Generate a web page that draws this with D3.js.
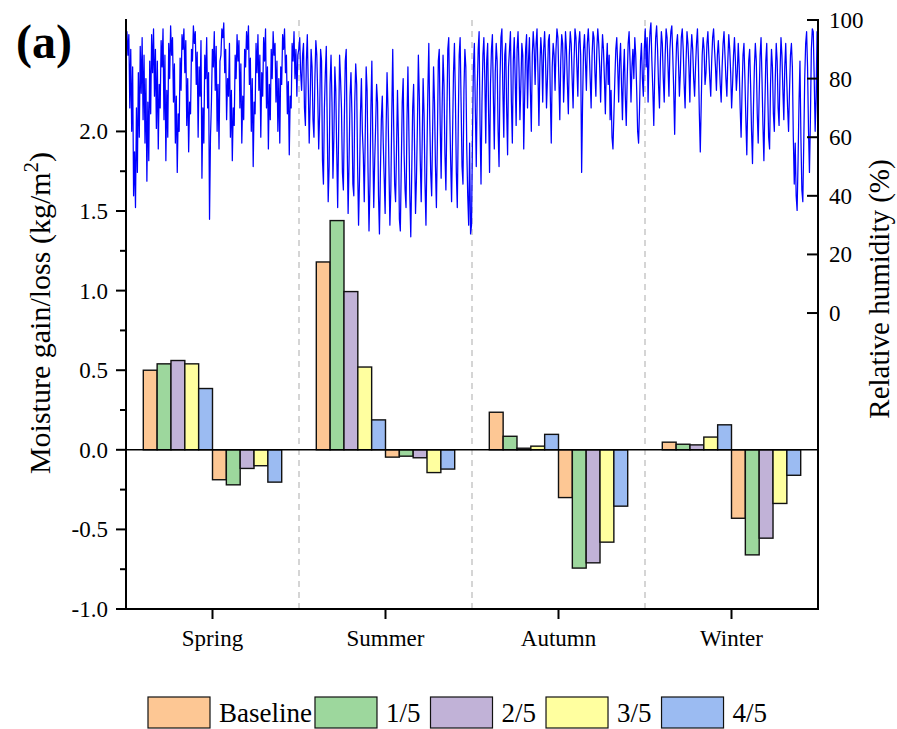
<!DOCTYPE html>
<html>
<head>
<meta charset="utf-8">
<script src="https://cdn.jsdelivr.net/npm/d3@7"></script>
<style>
  html, body { margin: 0; padding: 0; background: #fff; }
  svg { display: block; }
  text { font-family: "Liberation Serif", "Times New Roman", Times, serif; fill: #000; }
</style>
</head>
<body>
<svg id="chart" width="897" height="729"></svg>
<script>
// ---------- DATA ----------
const categories = ["Spring", "Summer", "Autumn", "Winter"];
const seriesNames = ["Baseline", "1/5", "2/5", "3/5", "4/5"];
const seriesColors = ["#FDC794", "#9DD79D", "#C1B2D7", "#FFFF9F", "#9BBBF2"];

// moisture gain (positive) per season
const baselineGain = [0.50, 1.18, 0.236, 0.048];
const oneFifthGain = [0.54, 1.44, 0.085, 0.035];
const twoFifthGain = [0.561, 0.994, 0.010, 0.031];
const threeFifthGain = [0.54, 0.52, 0.023, 0.080];
const fourFifthGain = [0.385, 0.188, 0.097, 0.157];
// moisture loss (negative) per season
const baselineLoss = [-0.188, -0.046, -0.300, -0.430];
const oneFifthLoss = [-0.220, -0.040, -0.743, -0.660];
const twoFifthLoss = [-0.117, -0.050, -0.710, -0.555];
const threeFifthLoss = [-0.100, -0.143, -0.580, -0.337];
const fourFifthLoss = [-0.203, -0.121, -0.354, -0.160];

const leftTicks = [-1.0, -0.5, 0.0, 0.5, 1.0, 1.5, 2.0];
const leftMinorTicks = [-0.75, -0.25, 0.25, 0.75, 1.25, 1.75];
const rightTicks = [0, 20, 40, 60, 80, 100];

// relative humidity (%) through the year (two readings per day)
const rhSpring = [
  93, 96, 88, 95, 70, 90, 62, 84, 40, 55, 36, 70, 48, 82, 60, 91, 75, 94, 66, 88,
  58, 80, 45, 72, 52, 86, 68, 95, 82, 97, 74, 90, 63, 86, 56, 78, 70, 93, 84, 97,
  66, 88, 52, 76, 60, 92, 80, 98, 88, 94, 72, 85, 58, 74, 48, 68, 62, 87, 76, 95,
  90, 97, 82, 93, 64, 80, 55, 72, 68, 90, 86, 98, 92, 96, 78, 89, 60, 84, 74, 93,
  46, 70, 58, 88, 80, 94, 70, 82, 32, 60, 72, 90, 84, 96, 76, 91, 62, 78, 56, 86,
  88, 97, 94, 99, 82, 90, 66, 80, 74, 92, 60, 76, 52, 70, 64, 88, 80, 95, 86, 93,
  70, 85, 58, 74, 66, 90, 84, 96, 90, 98, 78, 87, 62, 80, 50, 72, 68, 92, 82, 95,
  76, 88, 60, 82, 74, 94, 86, 97, 70, 84, 56, 78, 66, 90, 80, 96, 88, 92, 72, 86,
  62, 80, 58, 84, 78, 95, 90, 97, 82, 88, 68, 79, 54, 74, 70, 92, 86, 96, 80, 90,
  74, 88];
const rhSummer = [
  90, 94, 82, 76, 88, 92, 70, 64, 86, 95, 78, 58, 72, 90, 84, 66, 60, 80, 93, 88,
  74, 56, 68, 90, 86, 52, 44, 70, 82, 91, 64, 38, 50, 78, 88, 72, 46, 60, 84, 76,
  55, 36, 62, 88, 80, 70, 48, 42, 66, 86, 90, 58, 34, 52, 74, 82, 68, 44, 40, 72,
  85, 78, 50, 30, 46, 68, 80, 62, 54, 38, 60, 84, 76, 48, 28, 44, 70, 86, 58, 36,
  52, 64, 78, 72, 40, 27, 48, 66, 74, 58, 46, 34, 62, 82, 70, 50, 30, 42, 68, 90,
  64, 44, 38, 56, 76, 60, 32, 28, 50, 72, 80, 54, 42, 36, 66, 84, 62, 40, 26, 48,
  70, 78, 56, 34, 46, 64, 88, 74, 52, 38, 58, 80, 68, 44, 30, 54, 76, 92, 66, 48,
  40, 62, 84, 72, 50, 36, 58, 86, 90, 64, 46, 70, 88, 78, 54, 42, 66, 90, 94, 70,
  52, 38, 60, 82, 92, 74, 48, 36, 64, 88, 94, 72, 50, 44, 76, 90, 84, 56, 40, 30,
  58, 27];
const rhAutumn = [
  30, 60, 84, 92, 70, 50, 76, 90, 96, 64, 44, 72, 88, 94, 80, 58, 86, 92, 68, 48,
  78, 90, 95, 74, 56, 82, 92, 86, 62, 50, 80, 94, 97, 76, 60, 88, 92, 70, 54, 84,
  90, 96, 72, 58, 86, 94, 80, 64, 90, 96, 84, 66, 78, 92, 88, 56, 74, 90, 95, 70,
  86, 94, 76, 62, 88, 96, 90, 78, 92, 97, 82, 64, 84, 94, 88, 72, 90, 96, 86, 70,
  80, 93, 95, 74, 58, 84, 92, 88, 76, 90, 97, 94, 80, 66, 86, 95, 92, 72, 82, 96,
  90, 78, 68, 88, 96, 92, 80, 70, 86, 97, 94, 84, 74, 92, 96, 88, 48, 72, 90, 95,
  86, 76, 92, 97, 90, 80, 70, 88, 96, 94, 82, 74, 90, 97, 92, 84, 72, 86, 95, 90,
  80, 68, 84, 92, 78, 88, 66, 76, 60, 56, 68, 80, 90, 94, 84, 72, 86, 92, 78, 66,
  82, 90, 74, 64, 80, 92, 96, 86, 72, 84, 90, 80, 94, 88, 76, 62, 58, 70, 86, 92,
  80, 74];
const rhWinter = [
  90, 97, 84, 94, 72, 88, 96, 99, 86, 76, 64, 82, 94, 98, 90, 78, 70, 86, 96, 92,
  80, 72, 88, 97, 94, 84, 74, 90, 96, 98, 88, 76, 61, 80, 92, 95, 86, 74, 82, 94,
  97, 90, 78, 70, 86, 96, 92, 84, 72, 88, 95, 90, 80, 74, 84, 92, 97, 86, 68, 55,
  72, 88, 94, 90, 78, 82, 92, 96, 88, 80, 74, 86, 94, 97, 90, 84, 76, 88, 93, 86,
  78, 72, 84, 92, 96, 88, 80, 74, 86, 95, 90, 82, 70, 78, 88, 94, 86, 76, 82, 92,
  84, 70, 60, 76, 88, 92, 80, 66, 54, 72, 86, 90, 78, 62, 51, 70, 84, 92, 86, 68,
  58, 74, 88, 94, 80, 64, 52, 70, 86, 92, 76, 60, 56, 78, 90, 84, 68, 62, 80, 92,
  86, 70, 64, 82, 94, 88, 76, 66, 84, 92, 80, 70, 62, 76, 88, 92, 84, 60, 44, 58,
  40, 35, 52, 72, 86, 60, 42, 38, 58, 80, 92, 96, 84, 62, 48, 66, 90, 97, 96, 80,
  62, 74, 96, 45];

// ---------- BUILD ----------
const gains = [baselineGain, oneFifthGain, twoFifthGain, threeFifthGain, fourFifthGain];
const losses = [baselineLoss, oneFifthLoss, twoFifthLoss, threeFifthLoss, fourFifthLoss];
const rh = rhSpring.concat(rhSummer, rhAutumn, rhWinter);

const svg = d3.select("#chart");
const FONT = "'Liberation Serif', 'Times New Roman', Times, serif";
svg.attr("font-family", FONT);
const L = 126, R = 818, T = 20, B = 609;

const x = d3.scaleBand().domain(categories).range([L, R]).padding(0);
const slot = d3.scaleBand().domain(d3.range(10)).range([x.bandwidth() * 0.1, x.bandwidth() * 0.9]).padding(0);
const y = d3.scaleLinear().domain([-1, 2.7]).range([B, T]);
const yR = d3.scaleLinear().domain([-101, 100]).range([B, T]);
const xDay = d3.scaleLinear().domain([0, rh.length - 1]).range([L, R]);

// separators
svg.append("g").selectAll("line")
  .data(categories.slice(1))
  .join("line")
  .attr("x1", d => x(d)).attr("x2", d => x(d))
  .attr("y1", T).attr("y2", B)
  .attr("stroke", "#c8c8c8").attr("stroke-width", 1.5)
  .attr("stroke-dasharray", "6,5");

// RH line
svg.append("path")
  .datum(rh)
  .attr("fill", "none")
  .attr("stroke", "#0000ff")
  .attr("stroke-width", 1.25)
  .attr("stroke-linejoin", "round")
  .attr("d", d3.line().x((d, i) => xDay(i)).y(d => yR(d)));

// bars
const barData = [];
categories.forEach((c, ci) => {
  seriesNames.forEach((s, si) => {
    barData.push({ cat: c, slot: si, value: gains[si][ci], color: seriesColors[si] });
    barData.push({ cat: c, slot: si + 5, value: losses[si][ci], color: seriesColors[si] });
  });
});
svg.append("g").selectAll("rect")
  .data(barData)
  .join("rect")
  .attr("x", d => x(d.cat) + slot(d.slot))
  .attr("width", slot.bandwidth())
  .attr("y", d => y(Math.max(0, d.value)))
  .attr("height", d => Math.abs(y(d.value) - y(0)))
  .attr("fill", d => d.color)
  .attr("stroke", "#111")
  .attr("stroke-width", 1.4);

// zero line
svg.append("line")
  .attr("x1", L).attr("x2", R)
  .attr("y1", y(0)).attr("y2", y(0))
  .attr("stroke", "#000").attr("stroke-width", 1.5);

// left axis
const gL = svg.append("g").attr("transform", `translate(${L},0)`);
gL.append("line").attr("x1", 0).attr("x2", 0).attr("y1", T - 1).attr("y2", B + 1)
  .attr("stroke", "#000").attr("stroke-width", 2);
gL.selectAll(".maj").data(leftTicks).join("line").attr("class", "maj")
  .attr("x1", -10).attr("x2", 0).attr("y1", d => y(d)).attr("y2", d => y(d))
  .attr("stroke", "#000").attr("stroke-width", 2);
gL.selectAll(".min").data(leftMinorTicks).join("line").attr("class", "min")
  .attr("x1", -6).attr("x2", 0).attr("y1", d => y(d)).attr("y2", d => y(d))
  .attr("stroke", "#000").attr("stroke-width", 2);
gL.selectAll("text").data(leftTicks).join("text")
  .attr("x", -18).attr("y", d => y(d)).attr("dy", "0.35em")
  .attr("text-anchor", "end").attr("font-size", 23)
  .attr("font-family", FONT)
  .text(d => d3.format(".1f")(d).replace("\u2212", "-"));

// right axis
const gR = svg.append("g").attr("transform", `translate(${R},0)`);
gR.append("line").attr("x1", 0).attr("x2", 0).attr("y1", T - 1).attr("y2", B + 1)
  .attr("stroke", "#000").attr("stroke-width", 2);
gR.selectAll(".maj").data(rightTicks).join("line").attr("class", "maj")
  .attr("x1", -11).attr("x2", 0).attr("y1", d => yR(d)).attr("y2", d => yR(d))
  .attr("stroke", "#000").attr("stroke-width", 2);
gR.selectAll("text").data(rightTicks).join("text")
  .attr("x", 11).attr("y", d => yR(d)).attr("dy", "0.35em")
  .attr("text-anchor", "start").attr("font-size", 23)
  .attr("font-family", FONT)
  .text(d => d);

// bottom axis
const gB = svg.append("g");
gB.append("line").attr("x1", L - 1).attr("x2", R + 1).attr("y1", B).attr("y2", B)
  .attr("stroke", "#000").attr("stroke-width", 2);
gB.selectAll(".tk").data(categories).join("line").attr("class", "tk")
  .attr("x1", d => x(d) + x.bandwidth() / 2).attr("x2", d => x(d) + x.bandwidth() / 2)
  .attr("y1", B).attr("y2", B + 10)
  .attr("stroke", "#000").attr("stroke-width", 2);
gB.selectAll("text").data(categories).join("text")
  .attr("x", d => x(d) + x.bandwidth() / 2).attr("y", B + 37)
  .attr("text-anchor", "middle").attr("font-size", 23)
  .attr("font-family", FONT)
  .text(d => d);

// axis titles
const tl = svg.append("text")
  .attr("transform", `translate(50,313) rotate(-90)`)
  .attr("text-anchor", "middle").attr("font-size", 30)
  .attr("font-family", FONT);
tl.append("tspan").text("Moisture gain/loss (kg/m");
tl.append("tspan").attr("dy", -12).attr("font-size", 21).text("2");
tl.append("tspan").attr("dy", 12).text(")");

svg.append("text")
  .attr("transform", `translate(889,289) rotate(-90)`)
  .attr("text-anchor", "middle").attr("font-size", 29)
  .attr("font-family", FONT)
  .text("Relative humidity (%)");

// panel label
svg.append("text").attr("x", 16).attr("y", 58)
  .attr("font-size", 48).attr("font-weight", "bold")
  .attr("font-family", FONT).text("(a)");

// legend
const lg = svg.append("g");
let lx = 148;
const swW = 62, swH = 31, ly = 697;
seriesNames.forEach((s, i) => {
  lg.append("rect").attr("x", lx).attr("y", ly).attr("width", swW).attr("height", swH)
    .attr("fill", seriesColors[i]).attr("stroke", "#111").attr("stroke-width", 1.2);
  const t = lg.append("text").attr("x", lx + swW + 9).attr("y", ly + swH / 2).attr("dy", "0.35em")
    .attr("font-size", 27).attr("font-family", FONT).text(s);
  lx = lx + swW + 9 + t.node().getComputedTextLength() + (i === 0 ? 3 : 10);
});
</script>
</body>
</html>
